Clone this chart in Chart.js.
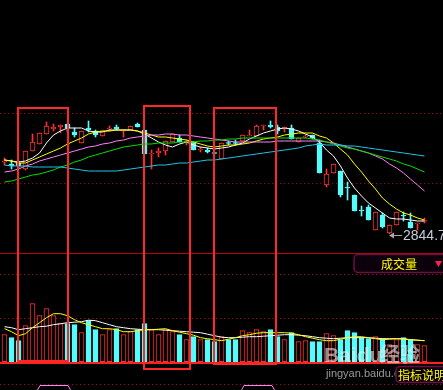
<!DOCTYPE html>
<html lang="zh">
<head>
<meta charset="UTF-8">
<title>K线 成交量</title>
<script src="https://cdn.jsdelivr.net/npm/chart.js"></script>
<style>
  html, body { margin: 0; padding: 0; background: #000; }
  #wrap { position: relative; width: 443px; height: 390px; overflow: hidden; }
  canvas { display: block; }
</style>
</head>
<body>
<div id="wrap"><canvas id="kline" width="443" height="390"></canvas></div>
<script>
// K线数据（按日）
const openP  = [2988,2984,2986,2974,3010,3024,3044,3054,3058,3064,3048,3026,3056,3050,3040,3054,3058,3050,3052,3064,
                3052,3004,3006,3010,3028,3036,3026,3028,3012,3012,3007,2994,3027,3027,3030,3040,3040,3060,3062,3058,
                3056,3056,3028,3038,3042,3026,2942,2966,2970,2938,2922,2892,2898,2852,2882,2846,2862,2882,2868,2864,2869];
const highP  = [2996,2992,2990,3010,3044,3046,3068,3064,3062,3064,3056,3050,3070,3052,3050,3060,3062,3052,3060,3066,
                3052,3012,3016,3030,3044,3042,3032,3028,3018,3016,3008,3026,3030,3032,3042,3052,3062,3062,3070,3062,
                3058,3062,3036,3042,3042,3032,2974,2984,2970,2948,2922,2900,2902,2888,2886,2862,2888,2888,2886,2866,2876];
const lowP   = [2982,2974,2976,2972,3010,3024,3044,3050,3046,3048,3038,3026,3048,3038,3040,3050,3052,3038,3052,3058,
                3004,2974,2998,3002,3028,3028,3022,3012,3008,3006,3004,2994,3022,3022,3030,3040,3040,3052,3056,3044,
                3048,3034,3028,3036,3034,2966,2938,2966,2918,2912,2890,2880,2872,2852,2856,2844.7,2862,2870,2856,2852,2866];
const closeP = [2990,2980,2980,3010,3028,3046,3060,3058,3062,3056,3042,3050,3052,3042,3050,3056,3054,3052,3060,3058,
                3004,3006,3010,3030,3044,3028,3030,3012,3014,3008,3005,3026,3025,3025,3042,3042,3060,3062,3058,3050,
                3058,3034,3036,3040,3036,2966,2964,2984,2922,2936,2890,2890,2872,2888,2858,2862,2888,2880,2856,2866,2871];

// 均线
const ma5  = [2992,2990,2988,2990,2996,3006,3026,3042,3050,3056,3056,3056,3050,3048,3048,3052,3052,3052,3052,3050,
              3044,3036,3028,3022,3018,3024,3028,3022,3018,3016,3014,3016,3018,3022,3026,3034,3040,3046,3050,3054,
              3056,3054,3050,3044,3038,3028,3012,3000,2980,2956,2936,2920,2906,2896,2886,2876,2874,2874,2872,2870,2870];
const ma10 = [2992,2990,2986,2986,2992,2998,3004,3010,3016,3024,3030,3036,3044,3048,3050,3050,3052,3052,3052,3050,
              3046,3042,3038,3038,3036,3034,3032,3028,3024,3020,3018,3020,3022,3022,3024,3026,3030,3034,3036,3038,
              3042,3044,3046,3046,3046,3040,3036,3026,3014,3002,2984,2968,2950,2934,2916,2904,2894,2886,2882,2876,2872];
const ma20 = [2968,2970,2974,2980,2984,2990,2994,2998,3002,3006,3010,3014,3018,3020,3024,3026,3030,3032,3036,3038,
              3040,3042,3042,3044,3044,3042,3042,3040,3038,3036,3034,3032,3030,3028,3028,3028,3028,3028,3028,3030,
              3030,3030,3030,3030,3030,3030,3028,3026,3022,3018,3014,3010,3006,3000,2994,2984,2976,2966,2954,2942,2930];
const ma30 = [2948,2950,2954,2958,2962,2964,2968,2972,2978,2982,2988,2992,2998,3002,3006,3010,3014,3018,3020,3022,
              3024,3024,3026,3026,3026,3028,3028,3028,3030,3030,3032,3032,3034,3034,3036,3036,3036,3036,3036,3036,
              3036,3036,3036,3036,3034,3032,3028,3024,3020,3016,3014,3010,3006,3002,2998,2994,2990,2984,2980,2974,2968];
const ma60 = [2982,2980,2980,2980,2978,2978,2978,2978,2978,2976,2974,2972,2970,2970,2970,2970,2970,2972,2974,2976,
              2978,2980,2982,2982,2984,2986,2986,2988,2990,2992,2992,2994,2996,2998,3000,3002,3004,3006,3008,3010,
              3012,3014,3016,3020,3022,3024,3022,3022,3022,3020,3020,3018,3016,3014,3012,3010,3008,3006,3004,3002,3000];

// 成交量
const volume = [270,240,210,360,580,460,530,460,380,380,370,290,410,320,270,320,330,270,300,320,
                380,320,270,320,300,270,220,250,220,220,200,250,220,220,310,290,320,300,320,250,
                220,290,200,210,200,200,280,260,220,310,290,240,230,250,230,170,220,240,220,170,160];
const vma5  = [350,340,320,330,340,350,355,370,380,390,395,400,415,410,390,370,350,340,330,325,
               320,320,320,315,310,305,300,295,290,275,260,245,240,240,245,250,250,255,260,265,
               270,270,265,260,250,240,235,230,235,240,240,240,240,235,230,230,230,230,220,215,210];
const vma10 = [330,300,260,280,340,390,440,480,480,460,420,390,370,350,330,330,320,300,300,310,
               320,320,325,330,310,295,280,265,240,230,220,210,225,240,260,270,285,290,290,290,
               290,285,270,250,235,220,210,210,225,240,250,250,240,230,220,225,230,225,220,215,210];

const priceGrid = [3086, 2946];
const volGrid = [877, 437, -223];
const lowLabel = '2844.70';

const RED = '#ff3232';
const CYAN = '#54fcfc';
const idx = openP.map((_, i) => i);
const up = idx.map(i => closeP[i] >= openP[i]);

const pts = arr => arr.map((v, i) => ({ x: i, y: v }));
const maLine = (data, color, axis) => ({
  type: 'line', data: pts(data), yAxisID: axis, borderColor: color, borderWidth: 1,
  pointRadius: 0, tension: 0, order: 1
});

const decor = {
  id: 'decor',
  beforeDatasetsDraw(chart) {
    const { ctx } = chart;
    const y = chart.scales.y, yv = chart.scales.yv;
    ctx.save();
    ctx.strokeStyle = '#b00000';
    ctx.lineWidth = 1;
    ctx.setLineDash([1, 3]);
    const dotted = p => { p = Math.round(p) + 0.5; ctx.beginPath(); ctx.moveTo(0, p); ctx.lineTo(443, p); ctx.stroke(); };
    priceGrid.forEach(v => dotted(y.getPixelForValue(v)));
    volGrid.forEach(v => dotted(yv.getPixelForValue(v)));
    ctx.setLineDash([]);
    ctx.strokeStyle = '#c00000';
    ctx.beginPath(); ctx.moveTo(0, 253.5); ctx.lineTo(443, 253.5); ctx.stroke();
    ctx.restore();
  },
  afterDatasetsDraw(chart) {
    const { ctx } = chart;
    const yv = chart.scales.yv;
    ctx.save();
    // 成交量零轴
    ctx.fillStyle = '#ff2020';
    ctx.fillRect(0, Math.round(yv.getPixelForValue(0)), 443, 2);

    // 标注框
    ctx.strokeStyle = '#ff2828';
    ctx.lineWidth = 2;
    ctx.strokeRect(18, 108, 50, 253);
    ctx.strokeRect(144, 106, 46, 263);
    ctx.strokeRect(214, 108, 62, 256);

    // 最低价标记
    ctx.strokeStyle = '#a8a8a8';
    ctx.fillStyle = '#a8a8a8';
    ctx.lineWidth = 1;
    ctx.beginPath(); ctx.moveTo(391, 235.5); ctx.lineTo(402, 235.5); ctx.stroke();
    ctx.beginPath(); ctx.moveTo(389, 235.5); ctx.lineTo(394, 232.5); ctx.lineTo(394, 238.5); ctx.closePath(); ctx.fill();
    ctx.fillStyle = '#c4ccdc';
    ctx.font = '14px "Liberation Sans", Arial, sans-serif';
    ctx.textBaseline = 'alphabetic';
    ctx.fillText(lowLabel, 403, 240);

    // 成交量标签
    ctx.fillStyle = '#0c000c';
    ctx.strokeStyle = '#6a1040';
    ctx.lineWidth = 1.5;
    ctx.beginPath(); ctx.roundRect(354, 254.5, 100, 18, 4); ctx.fill(); ctx.stroke();
    ctx.fillStyle = '#ffff00';
    ctx.font = '12px "Noto Sans CJK SC", sans-serif';
    ctx.textBaseline = 'middle';
    ctx.textAlign = 'center';
    ctx.fillText('成交量', 399, 264);
    ctx.fillStyle = '#ff2050';
    ctx.beginPath(); ctx.moveTo(435, 261); ctx.lineTo(442, 261); ctx.lineTo(438.5, 267); ctx.closePath(); ctx.fill();

    // 水印
    ctx.textAlign = 'left';
    ctx.textBaseline = 'alphabetic';
    ctx.fillStyle = 'rgba(235,235,235,0.6)';
    ctx.font = 'bold 21px "Liberation Sans", Arial, sans-serif';
    ctx.fillText('Baidu', 324, 362);
    ctx.font = 'bold 20px "Noto Sans CJK SC", sans-serif';
    ctx.fillText('经验', 380, 362);
    ctx.fillStyle = 'rgba(170,170,170,0.9)';
    ctx.font = '11px "Liberation Sans", Arial, sans-serif';
    ctx.fillText('jingyan.baidu.com', 326, 377);

    // 指标说明
    ctx.fillStyle = '#0c000c';
    ctx.strokeStyle = '#6a1040';
    ctx.lineWidth = 1.5;
    ctx.beginPath(); ctx.roundRect(396, 366.5, 60, 16, 4); ctx.fill(); ctx.stroke();
    ctx.fillStyle = '#ffff00';
    ctx.font = '12px "Noto Sans CJK SC", sans-serif';
    ctx.textBaseline = 'middle';
    ctx.fillText('指标说明', 398, 375);

    // 底部页签
    ctx.strokeStyle = '#ff80ff';
    ctx.lineWidth = 1;
    [[37, 71], [241, 275]].forEach(([a, b]) => {
      ctx.beginPath();
      ctx.moveTo(a, 391); ctx.lineTo(a + 3, 385.5); ctx.lineTo(b - 3, 385.5); ctx.lineTo(b, 391);
      ctx.stroke();
    });
    ctx.restore();
  }
};

new Chart(document.getElementById('kline'), {
  type: 'bar',
  data: {
    datasets: [
      {
        label: '影线', data: idx.map(i => ({ x: i, y: [lowP[i], highP[i]] })), yAxisID: 'y',
        backgroundColor: idx.map(i => up[i] ? RED : CYAN), barThickness: 1, grouped: false, order: 3
      },
      {
        label: 'K线', data: idx.map(i => ({ x: i, y: [openP[i], closeP[i]] })), yAxisID: 'y',
        backgroundColor: idx.map(i => up[i] ? '#000' : CYAN),
        borderColor: idx.map(i => up[i] ? RED : CYAN),
        borderWidth: 1, borderSkipped: false, barThickness: 5, grouped: false, order: 2
      },
      {
        label: '成交量', data: pts(volume), yAxisID: 'yv',
        backgroundColor: idx.map(i => up[i] ? '#000' : CYAN),
        borderColor: idx.map(i => up[i] ? RED : CYAN),
        borderWidth: 1, borderSkipped: false, barThickness: 5, grouped: false, order: 2
      },
      maLine(ma60, '#20c4e8', 'y'),
      maLine(ma30, '#00e000', 'y'),
      maLine(ma20, '#ff80ff', 'y'),
      maLine(ma10, '#ffff00', 'y'),
      maLine(ma5, '#ffffff', 'y'),
      maLine(vma10, '#ffff00', 'yv'),
      maLine(vma5, '#ffffff', 'yv')
    ]
  },
  options: {
    responsive: false,
    animation: false,
    devicePixelRatio: 1,
    layout: { padding: 0 },
    plugins: { legend: { display: false }, tooltip: { enabled: false } },
    scales: {
      x: { type: 'linear', min: -0.643, max: 62.643, offset: false, display: false },
      y: { type: 'linear', min: 2532, max: 3312, display: false },
      yv: { type: 'linear', min: -283, max: 3617, display: false }
    }
  },
  plugins: [decor]
});
</script>
</body>
</html>
